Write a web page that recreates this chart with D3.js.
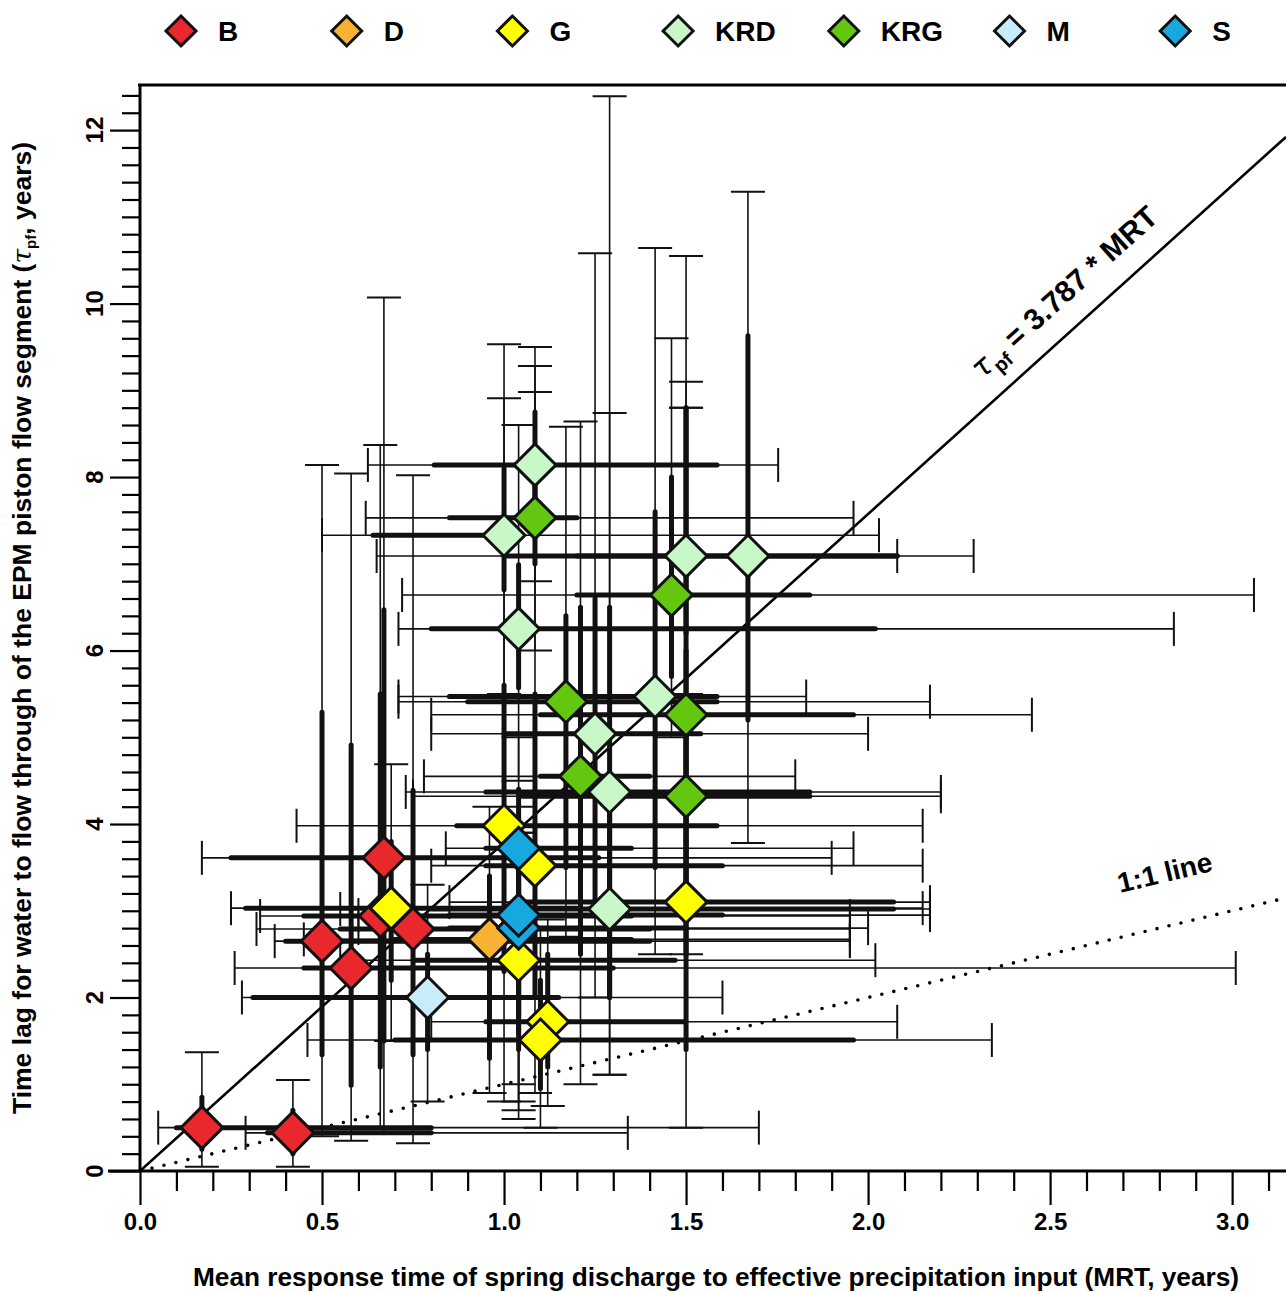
<!DOCTYPE html>
<html>
<head>
  <meta charset="utf-8">
  <title>EPM piston flow vs MRT</title>
  <script src="https://d3js.org/d3.v7.min.js"></script>
  <style>
    body { margin: 0; background: #fff; }
    text { font-family: "Liberation Sans Narrow", "Arial Narrow", "Liberation Sans", Arial, sans-serif; font-weight: bold; }
  </style>
</head>
<body>
  <div id="chart"></div>
  <script>
    // groups + colours
    var groupNames = ["B", "D", "G", "KRD", "KRG", "M", "S"];
    var groupColors = ["#e8282c", "#f7b233", "#ffff00", "#c8f7c8", "#63c710", "#c8ecf9", "#18a8e0"];

    // one entry per spring (drawing order = array order)
    var ptGroup = ["B", "B", "B", "B", "B", "B", "B", "D",
      "G", "G", "G", "G", "G", "G", "G",
      "KRD", "KRD", "KRD", "KRD", "KRD", "KRD", "KRD", "KRD", "KRD",
      "KRG", "KRG", "KRG", "KRG", "KRG", "KRG", "M", "S", "S", "S"];
    var ptMrt = [0.17, 0.42, 0.50, 0.58, 0.67, 0.66, 0.75, 0.96,
      0.69, 1.00, 1.085, 1.04, 1.12, 1.10, 1.50,
      1.085, 1.00, 1.04, 1.50, 1.67, 1.415, 1.25, 1.29, 1.29,
      1.085, 1.46, 1.17, 1.50, 1.21, 1.50, 0.79, 1.04, 1.04, 1.04];
    var ptTau = [0.50, 0.44, 2.65, 2.34, 3.61, 2.94, 2.79, 2.67,
      3.03, 3.98, 3.52, 2.43, 1.72, 1.51, 3.10,
      8.14, 7.33, 6.25, 7.09, 7.09, 5.47, 5.04, 4.37, 3.02,
      7.53, 6.64, 5.41, 5.26, 4.55, 4.32, 2.00, 2.80, 2.95, 3.72];

    // outer (thin, capped) and inner (thick) ranges for MRT
    var mrtLoOut = [0.05, 0.29, 0.37, 0.26, 0.17, 0.33, 0.32, 0.45,
      0.25, 0.43, 0.80, 0.55, 0.80, 0.46, 0.85,
      0.626, 0.50, 0.71, 0.65, 1.00, 0.71, 0.80, 0.73, 0.55,
      0.62, 0.72, 0.71, 0.80, 0.78, 0.75, 0.28, 0.60, 0.60, 0.84];
    var mrtHiOut = [1.70, 1.34, 1.95, 3.01, 1.90, 1.95, 1.95, 1.95,
      2.15, 2.15, 2.15, 2.02, 2.08, 2.34, 2.17,
      1.753, 2.03, 2.84, 2.08, 2.29, 1.83, 2.00, 2.20, 2.17,
      1.96, 3.06, 2.17, 2.45, 1.80, 2.20, 1.60, 2.00, 2.17, 1.96];
    var mrtLoIn = [0.10, 0.35, 0.40, 0.45, 0.25, 0.45, 0.55, 0.70,
      0.29, 0.87, 0.95, 0.75, 0.95, 0.70, 1.05,
      0.808, 0.64, 0.80, 1.00, 1.20, 0.85, 1.00, 0.95, 0.80,
      0.85, 1.20, 0.90, 1.10, 1.10, 1.05, 0.31, 0.85, 0.85, 0.95];
    var mrtHiIn = [0.80, 0.80, 1.40, 1.30, 1.26, 1.35, 1.40, 1.35,
      1.20, 1.585, 1.60, 1.47, 1.50, 1.96, 2.07,
      1.585, 1.05, 2.02, 2.08, 2.08, 1.585, 1.54, 1.84, 2.07,
      1.20, 1.84, 1.585, 1.96, 1.40, 1.84, 1.15, 1.50, 1.60, 1.35];

    // outer (thin, capped) and inner (thick) ranges for tau_pf
    var tauLoOut = [0.05, 0.05, 0.40, 0.35, 0.45, 0.50, 0.32, 0.90,
      1.50, 0.80, 0.90, 0.60, 0.75, 0.50, 0.50,
      6.00, 5.50, 4.50, 5.50, 3.78, 2.50, 2.00, 1.11, 1.11,
      6.80, 5.00, 2.70, 2.50, 1.00, 1.50, 0.80, 0.70, 0.80, 1.00];
    var tauHiOut = [1.37, 1.05, 8.14, 8.04, 10.07, 8.37, 8.02, 4.20,
      4.69, 8.91, 8.98, 3.90, 2.90, 2.80, 8.80,
      9.50, 9.53, 8.60, 10.55, 11.29, 10.64, 10.58, 12.39, 8.74,
      9.28, 9.60, 8.58, 8.80, 8.64, 9.10, 3.30, 3.90, 4.20, 5.00];
    var tauLoIn = [0.25, 0.20, 1.34, 0.99, 1.50, 1.20, 1.34, 1.30,
      2.20, 2.30, 2.00, 1.40, 1.20, 0.95, 1.40,
      7.30, 6.70, 5.57, 6.20, 5.20, 3.50, 3.00, 2.00, 2.00,
      7.00, 5.70, 3.50, 3.00, 2.50, 2.50, 1.40, 1.60, 1.80, 2.50];
    var tauHiIn = [0.85, 0.70, 5.29, 4.91, 6.47, 5.50, 4.39, 3.40,
      3.80, 5.60, 5.50, 3.20, 2.50, 2.20, 6.00,
      8.75, 8.10, 6.99, 8.80, 9.63, 7.60, 6.60, 6.50, 4.50,
      8.10, 8.00, 6.40, 8.80, 6.50, 5.00, 2.50, 3.40, 3.60, 4.40];

    var xMajor = [0, 0.5, 1.0, 1.5, 2.0, 2.5, 3.0];
    var yMajor = [0, 2, 4, 6, 8, 10, 12];
    var slope = 3.787;

    var W = 1286, H = 1292;
    var svg = d3.select("#chart").append("svg")
      .attr("width", W).attr("height", H);

    var x = d3.scaleLinear().domain([0, 3.148]).range([140, 1286]);
    var y = d3.scaleLinear().domain([0, 12.52]).range([1171, 85]);
    var color = d3.scaleOrdinal().domain(groupNames).range(groupColors);

    function diamond(r) {
      return "M0," + (-r) + "L" + r + ",0L0," + r + "L" + (-r) + ",0Z";
    }

    var pts = ptGroup.map(function (g, i) {
      return {
        g: g, x: ptMrt[i], y: ptTau[i],
        xl: mrtLoOut[i], xh: mrtHiOut[i], xl2: mrtLoIn[i], xh2: mrtHiIn[i],
        yl: tauLoOut[i], yh: tauHiOut[i], yl2: tauLoIn[i], yh2: tauHiIn[i]
      };
    });

    var plot = svg.append("g");
    // keep marks inside plot frame
    svg.append("clipPath").attr("id", "clip").append("rect")
      .attr("x", 140).attr("y", 85).attr("width", 1146).attr("height", 1086);
    plot.attr("clip-path", "url(#clip)");

    // 1:1 dotted line
    plot.append("line")
      .attr("x1", x(0)).attr("y1", y(0)).attr("x2", x(3.148)).attr("y2", y(3.148))
      .attr("stroke", "#000").attr("stroke-width", 3.6)
      .attr("stroke-linecap", "round").attr("stroke-dasharray", "0,12.3");

    // fitted line
    plot.append("line")
      .attr("x1", x(0)).attr("y1", y(0)).attr("x2", x(3.148)).attr("y2", y(3.148 * slope))
      .attr("stroke", "#000").attr("stroke-width", 2.6);

    var cap = 17;
    var bars = plot.append("g").attr("stroke", "#111").attr("fill", "none");

    // thin whiskers with caps
    pts.forEach(function (d) {
      var px = x(d.x), py = y(d.y);
      bars.append("line").attr("x1", x(d.xl)).attr("x2", x(d.xh)).attr("y1", py).attr("y2", py).attr("stroke-width", 1.6);
      bars.append("line").attr("x1", x(d.xl)).attr("x2", x(d.xl)).attr("y1", py - cap).attr("y2", py + cap).attr("stroke-width", 2);
      bars.append("line").attr("x1", x(d.xh)).attr("x2", x(d.xh)).attr("y1", py - cap).attr("y2", py + cap).attr("stroke-width", 2);
      bars.append("line").attr("x1", px).attr("x2", px).attr("y1", y(d.yl)).attr("y2", y(d.yh)).attr("stroke-width", 1.6);
      bars.append("line").attr("x1", px - cap).attr("x2", px + cap).attr("y1", y(d.yl)).attr("y2", y(d.yl)).attr("stroke-width", 2);
      bars.append("line").attr("x1", px - cap).attr("x2", px + cap).attr("y1", y(d.yh)).attr("y2", y(d.yh)).attr("stroke-width", 2);
    });

    // thick inner ranges
    pts.forEach(function (d) {
      var px = x(d.x), py = y(d.y);
      bars.append("line").attr("x1", x(d.xl2)).attr("x2", x(d.xh2)).attr("y1", py).attr("y2", py)
        .attr("stroke-width", 5).attr("stroke-linecap", "round");
      bars.append("line").attr("x1", px).attr("x2", px).attr("y1", y(d.yl2)).attr("y2", y(d.yh2))
        .attr("stroke-width", 5).attr("stroke-linecap", "round");
    });

    // diamonds
    plot.selectAll(".pt")
      .data(pts)
      .join("path")
      .attr("class", "pt")
      .attr("d", diamond(21))
      .attr("transform", function (d) { return "translate(" + x(d.x) + "," + y(d.y) + ")"; })
      .attr("fill", function (d) { return color(d.g); })
      .attr("stroke", "#111")
      .attr("stroke-width", 3)
      .attr("stroke-linejoin", "miter");

    // frame lines
    svg.append("line").attr("x1", 138).attr("x2", W).attr("y1", 85).attr("y2", 85)
      .attr("stroke", "#000").attr("stroke-width", 3);
    svg.append("line").attr("x1", 140).attr("x2", 140).attr("y1", 84).attr("y2", 1172)
      .attr("stroke", "#000").attr("stroke-width", 3);
    svg.append("line").attr("x1", 108).attr("x2", W).attr("y1", 1171).attr("y2", 1171)
      .attr("stroke", "#000").attr("stroke-width", 3);

    // x axis
    var xMinor = d3.range(0, 3.15, 0.1).filter(function (v) { return Math.abs(v * 2 - Math.round(v * 2)) > 1e-6; });
    var xAx = svg.append("g").attr("transform", "translate(0,1171)");
    xAx.call(d3.axisBottom(x).tickValues(xMinor).tickSize(20).tickFormat(""));
    xAx.append("g").call(d3.axisBottom(x).tickValues(xMajor).tickSize(34).tickPadding(8)
      .tickFormat(d3.format(".1f")));
    xAx.selectAll(".domain").remove();
    xAx.selectAll("line").attr("stroke", "#000").attr("stroke-width", 2.2);
    xAx.selectAll("text").attr("fill", "#000").style("font-size", "24px");

    // y axis
    var yMinor = d3.range(0, 12.5, 0.2).filter(function (v) { return Math.abs(v / 2 - Math.round(v / 2)) > 1e-6; });
    var yAx = svg.append("g").attr("transform", "translate(140,0)");
    yAx.call(d3.axisLeft(y).tickValues(yMinor).tickSize(18).tickFormat(""));
    yAx.append("g").call(d3.axisLeft(y).tickValues(yMajor).tickSize(30).tickFormat(""));
    yAx.selectAll(".domain").remove();
    yAx.selectAll("line").attr("stroke", "#000").attr("stroke-width", 2.2);
    yAx.selectAll(".ylab")
      .data(yMajor)
      .join("text")
      .attr("class", "ylab")
      .attr("transform", function (d) { return "translate(-45," + y(d) + ") rotate(-90)"; })
      .attr("text-anchor", "middle")
      .attr("dy", "0.35em")
      .attr("fill", "#000")
      .style("font-size", "24px")
      .text(function (d) { return d; });

    // axis titles
    svg.append("text")
      .attr("x", 716).attr("y", 1286)
      .attr("text-anchor", "middle")
      .attr("textLength", 1046)
      .attr("lengthAdjust", "spacingAndGlyphs")
      .style("font-size", "26px")
      .text("Mean response time of spring discharge to effective precipitation input (MRT, years)");

    var yt = svg.append("text")
      .attr("transform", "translate(31,628) rotate(-90)")
      .attr("text-anchor", "middle")
      .style("font-size", "26.5px");
    yt.append("tspan").text("Time lag for water to flow through of the EPM piston flow segment (");
    yt.append("tspan").style("font-family", "DejaVu Serif").style("font-weight", "normal").style("font-style", "italic").text("τ");
    yt.append("tspan").attr("dy", 5).style("font-size", "15px").text("pf");
    yt.append("tspan").attr("dy", -5).text(", years)");

    // line annotations
    var ang = Math.atan((y(0) - y(slope)) / (x(1) - x(0))) * 180 / Math.PI;
    var eq = svg.append("text")
      .attr("transform", "translate(982,380) rotate(" + (-ang) + ")")
      .style("font-family", "Liberation Sans, Arial, sans-serif")
      .style("font-size", "30px");
    eq.append("tspan").style("font-family", "DejaVu Sans").style("font-weight", "normal").style("font-style", "italic").text("τ");
    eq.append("tspan").attr("dy", 8).style("font-size", "20px").text("pf");
    eq.append("tspan").attr("dy", -8).text(" = 3.787 * MRT");

    var ang1 = Math.atan((y(0) - y(1)) / (x(1) - x(0))) * 180 / Math.PI;
    svg.append("text")
      .attr("transform", "translate(1120,893) rotate(" + (-ang1) + ")")
      .style("font-family", "Liberation Sans, Arial, sans-serif")
      .style("font-size", "28px")
      .text("1:1 line");

    // legend
    var leg = svg.append("g").selectAll("g")
      .data(groupNames)
      .join("g")
      .attr("transform", function (d, i) { return "translate(" + (181 + i * 165.7) + ",31)"; });
    leg.append("path")
      .attr("d", diamond(15))
      .attr("fill", function (d) { return color(d); })
      .attr("stroke", "#111").attr("stroke-width", 3);
    leg.append("text")
      .attr("x", 37).attr("dy", "0.36em")
      .style("font-family", "Liberation Sans, Arial, sans-serif")
      .style("font-size", "28px")
      .text(function (d) { return d; });
  </script>
</body>
</html>
